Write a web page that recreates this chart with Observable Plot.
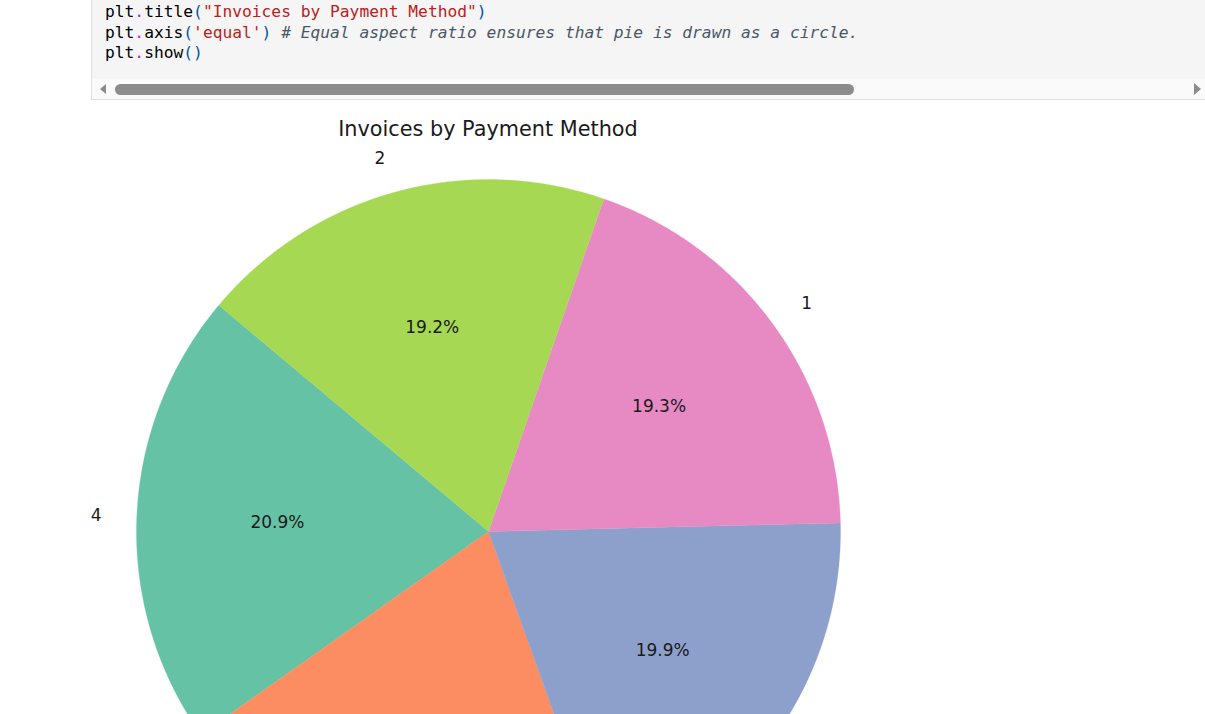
<!DOCTYPE html>
<html><head><meta charset="utf-8">
<script src="https://cdn.jsdelivr.net/npm/d3@7"></script>
<script src="https://cdn.jsdelivr.net/npm/@observablehq/plot@0.6"></script>
<style>
html,body{margin:0;padding:0;width:1205px;height:714px;overflow:hidden;background:#fff;}
#cell{position:absolute;left:91px;top:0;width:1130px;height:99px;background:#f5f5f5;border-left:1px solid #e0e0e0;border-bottom:1px solid #e0e0e0;z-index:2;}
#code{position:absolute;left:13px;top:2px;margin:0;font-family:"DejaVu Sans Mono",monospace;font-size:16.25px;line-height:20.5px;color:#000;white-space:pre;}
.p{color:#aa22ff}.b{color:#0055aa}.s{color:#ba2121}.c{color:#4a5866;font-style:italic}
#sb{position:absolute;left:0;top:79px;width:1130px;height:20px;background:#fafafa;}
#thumb{position:absolute;left:23px;top:5px;width:739px;height:11px;border-radius:6px;background:#8c8c8c;}
#la{position:absolute;left:8px;top:5px;width:0;height:0;border-top:5.5px solid transparent;border-bottom:5.5px solid transparent;border-right:6px solid #8c8c8c;}
#ra{position:absolute;left:1102px;top:4px;width:0;height:0;border-top:6.5px solid transparent;border-bottom:6.5px solid transparent;border-left:7px solid #8c8c8c;}
#chart{position:absolute;left:0;top:100px;}
#title{position:absolute;left:0;top:116px;width:976px;text-align:center;font-family:"DejaVu Sans",sans-serif;font-size:20.8px;line-height:26px;color:#1a1a1a;z-index:3;}
</style>
</head><body>
<div id="cell">
<pre id="code">plt<span class="p">.</span>title<span class="b">(</span><span class="s">"Invoices by Payment Method"</span><span class="b">)</span>
plt<span class="p">.</span>axis<span class="b">(</span><span class="s">'equal'</span><span class="b">)</span> <span class="c"># Equal aspect ratio ensures that pie is drawn as a circle.</span>
plt<span class="p">.</span>show<span class="b">()</span></pre>
<div id="sb"><div id="la"></div><div id="thumb"></div><div id="ra"></div></div>
</div>
<div id="chart"></div>
<div id="title"></div>
<script>
// ---- data ----
const title = "Invoices by Payment Method";
const labels = ["4", "3", "5", "1", "2"];
const shares = [20.9, 20.7, 19.9, 19.3, 19.2];
const colors = ["#66c2a5", "#fc8d62", "#8da0cb", "#e78ac3", "#a6d854"];
const startAngle = 140;

document.getElementById("title").textContent = title;

const total = d3.sum(shares);
let acc = startAngle;
const slices = labels.map((l, i) => {
  const a0 = acc, a1 = acc + shares[i] / total * 360;
  acc = a1;
  return {label: l, share: shares[i], a0, a1, mid: (a0 + a1) / 2};
});
const rad = d => d * Math.PI / 180;
const outline = slices.flatMap(s => {
  const n = Math.ceil((s.a1 - s.a0) / 0.25);
  const pts = [{label: s.label, x: 0, y: 0}];
  for (let k = 0; k <= n; k++) {
    const a = rad(s.a0 + (s.a1 - s.a0) * k / n);
    pts.push({label: s.label, x: Math.cos(a), y: Math.sin(a)});
  }
  pts.push({label: s.label, x: 0, y: 0});
  return pts;
});
const lx = (d, r) => r * Math.cos(rad(d.mid));
const ly = (d, r) => r * Math.sin(rad(d.mid));

const chart = Plot.plot({
  width: 1205,
  height: 800,
  marginLeft: 136,
  marginRight: 365,
  marginTop: 79,
  marginBottom: 17,
  x: {domain: [-1, 1], axis: null},
  y: {domain: [-1, 1], axis: null},
  color: {type: "ordinal", domain: labels, range: colors},
  style: {fontFamily: "DejaVu Sans, sans-serif", fontSize: "17px", background: "transparent"},
  marks: [
    Plot.line(outline, {x: "x", y: "y", z: "label", fill: "label", stroke: "label", strokeWidth: 0.3, curve: "linear"}),
    Plot.text(slices.filter(d => Math.cos(rad(d.mid)) >= 0), {x: d => lx(d, 1.1), y: d => ly(d, 1.1), text: "label", textAnchor: "start", fill: "#1a1a1a"}),
    Plot.text(slices.filter(d => Math.cos(rad(d.mid)) < 0), {x: d => lx(d, 1.1), y: d => ly(d, 1.1), text: "label", textAnchor: "end", fill: "#1a1a1a"}),
    Plot.text(slices, {x: d => lx(d, 0.6), y: d => ly(d, 0.6), text: d => d.share.toFixed(1) + "%", textAnchor: "middle", fill: "#1a1a1a"})
  ]
});
document.getElementById("chart").appendChild(chart);
</script>
</body></html>
